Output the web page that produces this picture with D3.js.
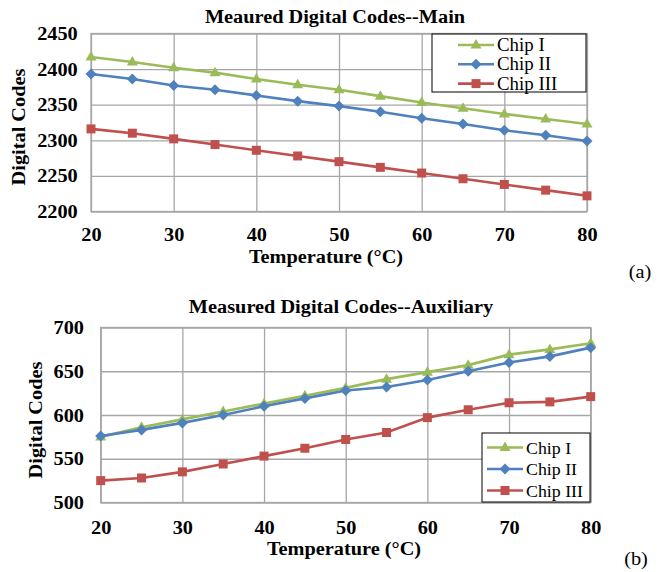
<!DOCTYPE html>
<head>
  <style>
    body { margin: 0; background: #fff; }
    text { font-family: "Liberation Serif", "Times New Roman", serif; }
  </style>
  <title>Measured Digital Codes</title>
</head>
<body>
  <script src="https://cdn.jsdelivr.net/npm/d3@7"></script>
  <script>
    // data
    var temps = [20, 25, 30, 35, 40, 45, 50, 55, 60, 65, 70, 75, 80];
    var xTicks = [20, 30, 40, 50, 60, 70, 80];
    var seriesNames = ["Chip I", "Chip II", "Chip III"];

    var mainChipI   = [2417, 2410, 2402, 2395, 2386, 2378, 2371, 2362, 2353, 2345, 2337, 2330, 2323];
    var mainChipII  = [2393, 2386, 2377, 2371, 2363, 2355, 2348, 2340, 2331, 2323, 2314, 2307, 2299];
    var mainChipIII = [2316, 2310, 2302, 2294, 2286, 2278, 2270, 2262, 2254, 2246, 2238, 2230, 2222];
    var mainYTicks  = [2200, 2250, 2300, 2350, 2400, 2450];

    var auxChipI   = [575, 586, 595, 604, 613, 622, 631, 641, 649, 657, 669, 675, 682];
    var auxChipII  = [576, 583, 591, 600, 610, 619, 628, 632, 640, 650, 660, 667, 677];
    var auxChipIII = [525, 528, 535, 544, 553, 562, 572, 580, 597, 606, 614, 615, 621];
    var auxYTicks  = [500, 550, 600, 650, 700];

    var colors = ["#9bbb59", "#4f81bd", "#c0504d"];
    var shapes = ["triangle", "diamond", "square"];
    var stretch = 1.07;   // the figure's lettering is a little wide

    var svg = d3.select("body").append("svg")
      .attr("width", 665)
      .attr("height", 572);

    function marker(shape) {
      if (shape == "triangle") return "M0,-6L5.5,3.5L-5.5,3.5Z";
      if (shape == "diamond") return "M0,-5.5L5.5,0L0,5.5L-5.5,0Z";
      return "M-4.5,-4.5H4.5V4.5H-4.5Z";
    }

    function label(g, x, y, str, anchor, size, weight, rot, sx) {
      return g.append("text")
        .attr("transform", "translate(" + x + "," + y + ")" + (rot ? " rotate(-90)" : "") + " scale(" + (sx || stretch) + ",1)")
        .attr("text-anchor", anchor)
        .style("font-size", size + "px")
        .style("font-weight", weight)
        .text(str);
    }

    function drawChart(cfg) {
      var w = cfg.right - cfg.left, h = cfg.bottom - cfg.top;
      var x = d3.scaleLinear().domain([20, 80]).range([0, w]);
      var y = d3.scaleLinear().domain([cfg.yTicks[0], cfg.yTicks[cfg.yTicks.length - 1]]).range([h, 0]);

      var g = svg.append("g").attr("transform", "translate(" + cfg.left + "," + cfg.top + ")");

      // gridlines + axes
      var xa = g.append("g").attr("transform", "translate(0," + h + ")")
        .call(d3.axisBottom(x).tickValues(xTicks).tickSize(-h).tickPadding(cfg.xPad).tickSizeOuter(0));
      var ya = g.append("g")
        .call(d3.axisLeft(y).tickValues(cfg.yTicks).tickFormat(d3.format("d"))
          .tickSize(-w).tickPadding(cfg.yPad).tickSizeOuter(0));
      [xa, ya].forEach(function(a) {
        a.selectAll("line").attr("stroke", "#a6a6a6").attr("stroke-width", 1.3);
        a.select(".domain").remove();
        a.selectAll("text")
          .attr("fill", "#000")
          .style("font-family", "Liberation Serif, serif")
          .style("font-size", "19px")
          .style("font-weight", "bold")
          .attr("transform", "scale(" + stretch + ",1)");
      });
      g.append("rect").attr("width", w).attr("height", h)
        .attr("fill", "none").attr("stroke", "#a6a6a6").attr("stroke-width", 1.3);

      // series
      var line = d3.line().x(function(d, i) { return x(temps[i]); }).y(function(d) { return y(d); });
      cfg.series.forEach(function(vals, k) {
        g.append("path").datum(vals)
          .attr("d", line)
          .attr("fill", "none")
          .attr("stroke", colors[k])
          .attr("stroke-width", 2.6);
        g.append("g").selectAll("path").data(vals).enter().append("path")
          .attr("transform", function(d, i) { return "translate(" + x(temps[i]) + "," + y(d) + ")"; })
          .attr("d", marker(shapes[k]))
          .attr("fill", colors[k]);
      });

      // titles
      label(svg, cfg.titleX, cfg.titleY, cfg.title, "middle", 19, "bold");
      label(svg, cfg.xTitleX, cfg.xTitleY, "Temperature (°C)", "middle", 19, "bold");
      label(svg, cfg.yTitleX, cfg.yTitleY, "Digital Codes", "middle", 19, "bold", true);
      label(svg, cfg.tagX, cfg.tagY, cfg.tag, "middle", 19, "normal");

      // legend
      var lg = svg.append("g");
      lg.append("rect")
        .attr("x", cfg.legend.x).attr("y", cfg.legend.y)
        .attr("width", cfg.legend.w).attr("height", cfg.legend.h)
        .attr("fill", "#fff").attr("stroke", "#000").attr("stroke-width", 1);
      seriesNames.forEach(function(name, k) {
        var ry = cfg.legend.y + cfg.legend.row0 + k * cfg.legend.step;
        var lx = cfg.legend.lineX;
        lg.append("line").attr("x1", lx).attr("x2", lx + 36).attr("y1", ry).attr("y2", ry)
          .attr("stroke", colors[k]).attr("stroke-width", 2.6);
        lg.append("path").attr("transform", "translate(" + (lx + 18) + "," + ry + ")")
          .attr("d", marker(shapes[k])).attr("fill", colors[k]);
        label(lg, lx + 39, ry + 6, name, "start", cfg.legend.font, "normal", false, 1.02);
      });
    }

    drawChart({
      left: 91, right: 587, top: 33.5, bottom: 211.5,
      yTicks: mainYTicks, xPad: 16.5, yPad: 12.4,
      series: [mainChipI, mainChipII, mainChipIII],
      title: "Meaured Digital Codes--Main", titleX: 335, titleY: 22.5,
      xTitleX: 326, xTitleY: 263, yTitleX: 25, yTitleY: 127,
      tag: "(a)", tagX: 640, tagY: 278,
      legend: {x: 432, y: 34, w: 154, h: 58, row0: 11, step: 19.3, lineX: 458, font: 18.5}
    });

    drawChart({
      left: 100.7, right: 590.7, top: 327.5, bottom: 502.5,
      yTicks: auxYTicks, xPad: 18, yPad: 15.6,
      series: [auxChipI, auxChipII, auxChipIII],
      title: "Measured Digital Codes--Auxiliary", titleX: 341, titleY: 313,
      xTitleX: 344, xTitleY: 555, yTitleX: 42, yTitleY: 420,
      tag: "(b)", tagX: 636, tagY: 565,
      legend: {x: 482, y: 433, w: 108, h: 69, row0: 14.5, step: 21.5, lineX: 487, font: 17.5}
    });
  </script>
</body>
